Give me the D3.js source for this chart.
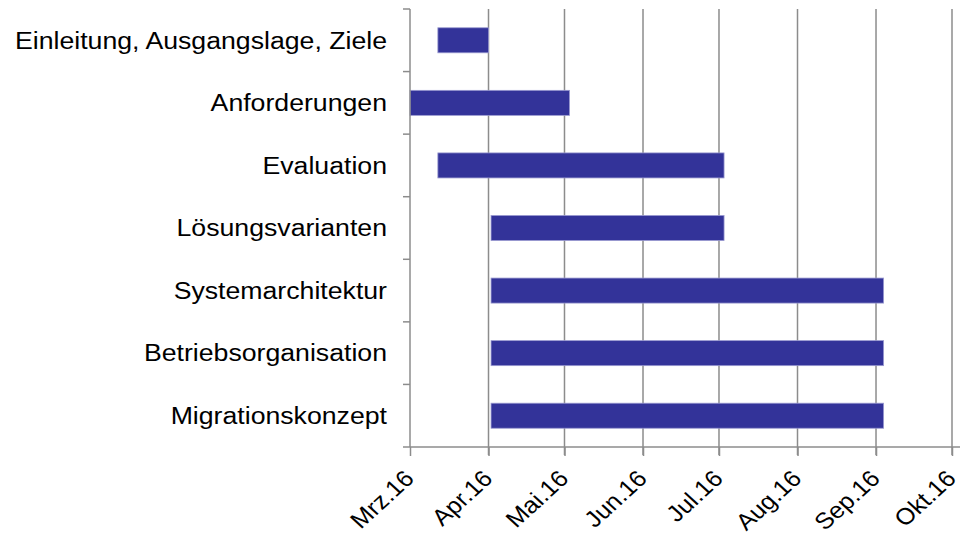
<!DOCTYPE html>
<html><head><meta charset="utf-8">
<script src="https://cdn.jsdelivr.net/npm/d3@7"></script>
<style>body{margin:0;background:#fff}svg{display:block}text{font-family:"Liberation Sans",Arial,sans-serif;fill:#000}</style>
</head><body>
<svg id="c" width="963" height="540"></svg>
<script>
const tasks = ["Einleitung, Ausgangslage, Ziele","Anforderungen","Evaluation","Lösungsvarianten","Systemarchitektur","Betriebsorganisation","Migrationskonzept"];
const startDates = ["2016-03-12","2016-03-01","2016-03-12","2016-04-02","2016-04-02","2016-04-02","2016-04-02"];
const endDates = ["2016-04-01","2016-05-03","2016-07-03","2016-07-03","2016-09-04","2016-09-04","2016-09-04"];
const tickDates = ["2016-03-01","2016-04-01","2016-05-01","2016-06-01","2016-07-01","2016-08-01","2016-09-01","2016-10-01"];
const tickLabels = ["Mrz.16","Apr.16","Mai.16","Jun.16","Jul.16","Aug.16","Sep.16","Okt.16"];

const parse = d3.utcParse("%Y-%m-%d");
const svg = d3.select("#c");
const m = {l:410, r:952, t:9, b:447};
const x = d3.scaleUtc().domain([parse(tickDates[0]), parse(tickDates[tickDates.length-1])]).range([m.l, m.r]);
const y = d3.scaleBand().domain(tasks).range([m.t, m.b]).paddingInner(0.6).paddingOuter(0.3);
const yb = d3.scaleBand().domain(tasks).range([m.t, m.b]);
const grey = "#8c8c8c";

// gridlines
svg.append("g").selectAll("line").data(tickDates.slice(1)).join("line")
  .attr("x1", d=>x(parse(d))).attr("x2", d=>x(parse(d)))
  .attr("y1", m.t).attr("y2", m.b+8)
  .attr("stroke", grey).attr("stroke-width", 1.5);

// bars
svg.append("g").selectAll("rect").data(tasks).join("rect")
  .attr("x", (d,i)=>x(parse(startDates[i])))
  .attr("width", (d,i)=>x(parse(endDates[i]))-x(parse(startDates[i])))
  .attr("y", d=>y(d)).attr("height", y.bandwidth())
  .attr("fill", "#333399").attr("stroke", "#9a9ad0").attr("stroke-width", 0.8);

// x axis
const xa = svg.append("g").attr("transform", `translate(0,${m.b})`)
  .call(d3.axisBottom(x).tickValues(tickDates.map(parse)).tickFormat((d,i)=>tickLabels[i]).tickSize(9).tickSizeOuter(0));
xa.select(".domain").attr("stroke", grey).attr("stroke-width", 1.5).attr("d", `M${m.l-7},0H${m.r+8}`);
xa.selectAll(".tick line").attr("stroke", grey).attr("stroke-width", 1.5);
xa.selectAll(".tick text").style("font-size","23px").attr("text-anchor","end")
  .attr("dx", 0).attr("dy", 0).attr("y", 0)
  .attr("transform", "translate(5,33) scale(1.1,1) rotate(-45)");

// y axis
svg.append("line").attr("x1", m.l).attr("x2", m.l).attr("y1", m.t).attr("y2", m.b)
  .attr("stroke", grey).attr("stroke-width", 1.5);
svg.append("g").selectAll("line").data(d3.range(tasks.length)).join("line")
  .attr("x1", m.l-7).attr("x2", m.l).attr("y1", i=>yb(tasks[i])).attr("y2", i=>yb(tasks[i]))
  .attr("stroke", grey).attr("stroke-width", 1.5);
svg.append("g").selectAll("text").data(tasks).join("text")
  .attr("transform", d=>`translate(387,${yb(d)+yb.bandwidth()/2}) scale(1.16,1)`)
  .attr("dy","0.36em")
  .attr("text-anchor","end").style("font-size","23px").text(d=>d);
</script>
</body></html>
